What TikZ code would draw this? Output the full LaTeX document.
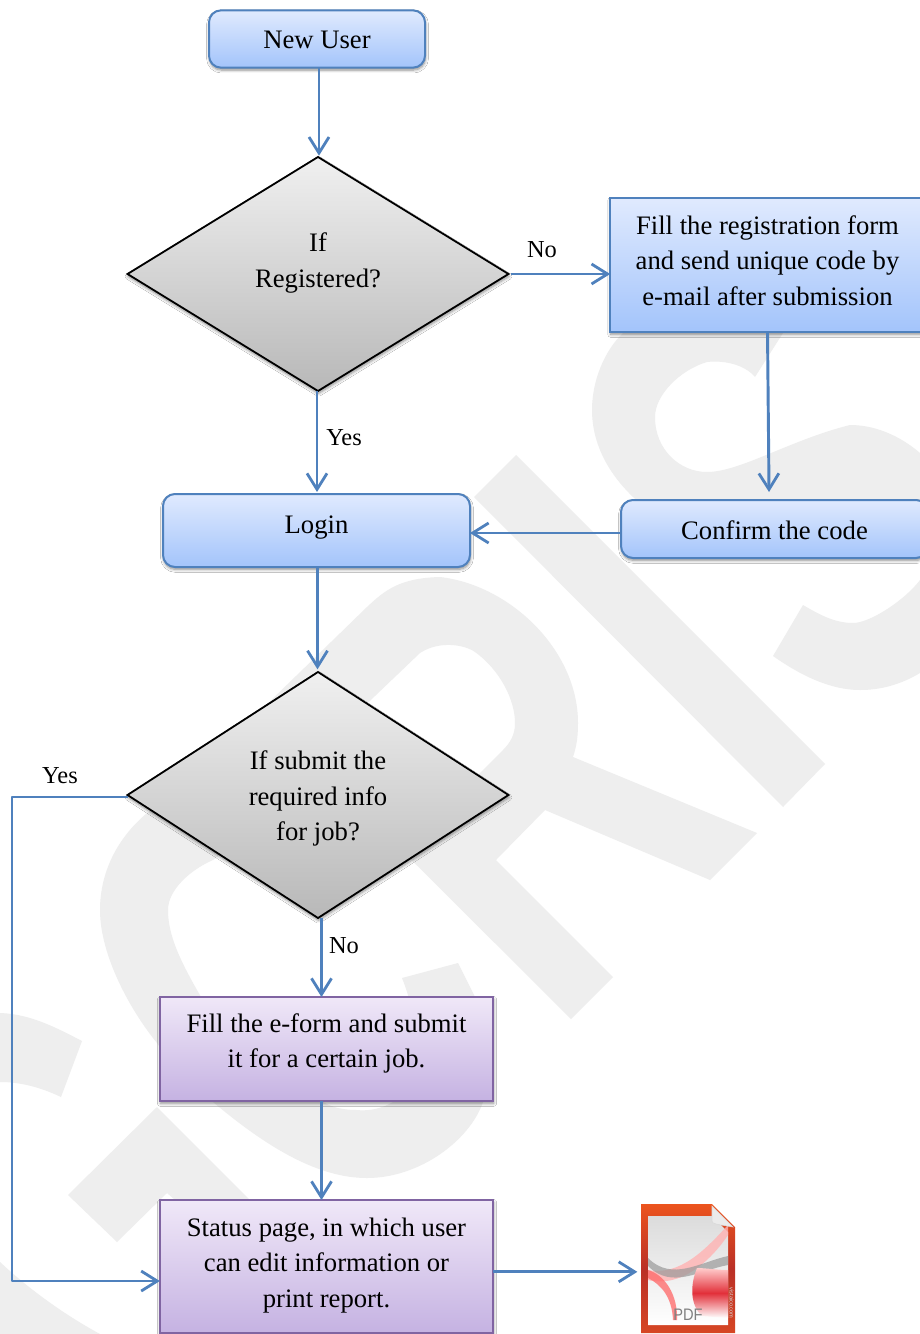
\documentclass[tikz,border=0pt]{standalone}
\usepackage{fontspec}
\setmainfont{Liberation Serif}
\newfontfamily\iconfont{Liberation Sans}
\usetikzlibrary{arrows.meta,shapes.geometric,shadows,shadows.blur}
\definecolor{flowblue}{HTML}{4F81BD}
\definecolor{purpleline}{HTML}{8064A2}
\definecolor{mark}{HTML}{EEEEEE}
\newcommand{\boxtext}[2]{\raisebox{#1}[0pt][0pt]{\begin{tabular}{@{}c@{}}#2\end{tabular}}}
\tikzset{
  softshadow/.style={blur shadow={shadow xshift=0.4pt,shadow yshift=-1.8pt,shadow blur radius=2.2pt,shadow blur steps=6,shadow opacity=45}},
  basebox/.style={inner sep=0pt,outer sep=0pt,font=\fontsize{20pt}{26.6pt}\selectfont,softshadow},
  bluefill/.style={top color={rgb,255:red,224;green,234;blue,254},bottom color={rgb,255:red,163;green,196;blue,251},draw=flowblue,line width=1.5pt},
  bluebox/.style={basebox,rectangle,bluefill},
  blueround/.style={basebox,rectangle,rounded corners=9pt,bluefill},
  purplebox/.style={basebox,rectangle,top color={rgb,255:red,240;green,232;blue,248},bottom color={rgb,255:red,197;green,178;blue,226},draw=purpleline,line width=1.5pt},
  decision/.style={basebox,diamond,top color={rgb,255:red,240;green,240;blue,240},bottom color={rgb,255:red,184;green,184;blue,184},draw=black,line width=1.35pt,aspect=1.63},
  flow/.style={draw=flowblue,line width=2.2pt,-{Straight Barb[length=12pt,width=15pt,line width=2.1pt]}},
  thinflow/.style={draw=flowblue,line width=1.6pt,line join=round,-{Straight Barb[length=12pt,width=15pt,line width=2.1pt]}},
  tag/.style={font=\fontsize{18.3pt}{21pt}\selectfont,inner sep=0pt},
  wm/.style={fill=mark,draw=none}
}
\begin{document}
\begin{tikzpicture}[x=0.75pt,y=-0.75pt]
\useasboundingbox (0,0) rectangle (920,1334);
\fill[white] (0,0) rectangle (920,1334);
% watermark letters
\fill[wm] (516,455) -- (474,497) -- (783,807) -- (825,764) -- cycle;
\fill[wm,even odd rule] (261,710) -- (367,607) .. controls (385,590) and (400,578) .. (440,577) .. controls (510,585) and (578,650) .. (578,723) .. controls (578,735) and (577,745) .. (573,757) -- (757,833) -- (710,880) -- (545,810) -- (496,860) -- (613,977) -- (571,1019) -- cycle
  (353,717) -- (420,653) .. controls (440,640) and (465,645) .. (475,652) .. controls (500,670) and (515,700) .. (515,723) .. controls (515,735) and (510,743) .. (503,750) -- (444,809) -- cycle;
\fill[wm] (300,800) -- (220,770) -- (147,813) .. controls (115,840) and (100,875) .. (100,910) .. controls (100,955) and (130,1010) .. (157,1043) .. controls (175,1070) and (195,1088) .. (213,1102) .. controls (270,1150) and (320,1178) .. (367,1178) .. controls (420,1178) and (470,1140) .. (483,1102) .. controls (492,1070) and (490,1030) .. (475,997) -- (458,963) -- (402,978) .. controls (415,1010) and (425,1060) .. (393,1102) .. controls (380,1110) and (365,1111) .. (357,1110) .. controls (345,1110) and (333,1108) .. (323,1102) .. controls (270,1075) and (225,1040) .. (197,990) .. controls (180,960) and (168,935) .. (168,910) .. controls (168,890) and (190,870) .. (213,860) -- cycle;
\fill[wm] (157,1107) -- (68,1195) -- (117,1242) -- (167,1193) -- (175,1200) -- (250,1200) -- cycle;
\fill[wm] (0,1013) .. controls (30,1014) and (55,1027) .. (82,1041) -- (61,1097) .. controls (40,1087) and (20,1082) .. (0,1082) -- cycle;
\fill[wm] (0,1262) .. controls (30,1290) and (65,1315) .. (100,1334) -- (0,1334) -- cycle;
\fill[wm] (755,377) .. controls (745,365) and (725,360) .. (707,362) .. controls (680,370) and (655,395) .. (655,417) .. controls (655,450) and (680,472) .. (707,472) .. controls (740,472) and (790,440) .. (850,425) .. controls (880,425) and (905,440) .. (920,453) -- (920,535) .. controls (900,510) and (885,497) .. (865,499) .. controls (820,505) and (790,525) .. (770,530) .. controls (720,540) and (670,530) .. (633,497) .. controls (605,470) and (592,440) .. (592,410) .. controls (592,380) and (605,350) .. (623,333) -- (650,270) -- (783,270) -- (783,333) -- cycle;
\fill[wm] (803,605) .. controls (820,615) and (835,623) .. (853,623) .. controls (870,623) and (905,600) .. (920,580) -- (920,673) .. controls (900,685) and (880,690) .. (860,690) .. controls (830,690) and (800,675) .. (773,656) -- cycle;
% boxes
\node[blueround,minimum width=162pt,minimum height=43pt] (user) at (317,39) {\boxtext{-7.2pt}{New User}};
\node[decision,minimum width=285.75pt,minimum height=175.5pt] (d1) at (318,274) {\boxtext{3.4pt}{If\\Registered?}};
\node[bluebox,minimum width=236pt,minimum height=100.5pt] (reg) at (767.5,265) {\boxtext{-3.5pt}{Fill the registration form\\and send unique code by\\e-mail after submission}};
\node[blueround,minimum width=230.25pt,minimum height=54.75pt] (login) at (316.5,530.5) {\boxtext{-1.75pt}{Login}};
\node[blueround,minimum width=230.25pt,minimum height=43.5pt] (confirm) at (774.5,529) {\boxtext{-8pt}{Confirm the code}};
\node[decision,minimum width=285.75pt,minimum height=184.5pt] (d2) at (318,795) {\boxtext{-7.5pt}{If submit the\\required info\\for job?}};
\node[purplebox,minimum width=250pt,minimum height=78pt] (fillb) at (326.5,1049) {\boxtext{-.8pt}{Fill the e-form and submit\\it for a certain job.}};
\node[purplebox,minimum width=250pt,minimum height=99.75pt] (status) at (326.5,1266.5) {\boxtext{-3.75pt}{Status page, in which user\\can edit information or\\print report.}};
% pdf icon
\node[inner sep=0pt,outer sep=0pt,minimum width=71pt,minimum height=96.5pt] (pdf) at (688,1269) {};
\shade[top color={rgb,255:red,236;green,84;blue,30},bottom color={rgb,255:red,214;green,70;blue,36},middle color={rgb,255:red,186;green,48;blue,38}] (641,1204) -- (712,1204) -- (735,1227) -- (735,1333) -- (641,1333) -- cycle;
\shade[top color=white!86!black,bottom color=white] (648,1216) -- (712,1216) -- (728,1232) -- (728,1325) -- (648,1325) -- cycle;
\fill[red!30!white,opacity=.8] (648,1270) .. controls (680,1276) and (705,1250) .. (728,1225) -- (728,1235) .. controls (710,1262) and (680,1288) .. (648,1280) -- cycle;
\fill[black!40,opacity=.7] (648,1258) .. controls (672,1282) and (700,1262) .. (728,1256) -- (728,1265) .. controls (700,1270) and (672,1290) .. (648,1266) -- cycle;
\shade[top color=red!20!white,bottom color=white,middle color={rgb,255:red,226;green,48;blue,58}] (697,1268) .. controls (705,1268) and (718,1270) .. (728,1270) -- (728,1318) -- (702,1316) .. controls (690,1305) and (690,1285) .. (697,1268) -- cycle;
\fill[red!60!white,opacity=.75] (648,1270) .. controls (665,1275) and (678,1295) .. (677,1320) -- (673,1320) .. controls (672,1298) and (662,1285) .. (648,1278) -- cycle;
\fill[white!92!black,draw=black!15] (712,1206) -- (712,1221) .. controls (712,1224) and (716,1224) .. (733,1227) -- cycle;
\node[inner sep=0pt,text=black!50,font=\iconfont\fontsize{12.5pt}{14pt}\selectfont] (pdftext) at (688,1315) {\scalebox{.88}[1]{PDF}};
\node[inner sep=0pt,text=white!85!black,rotate=-90,font=\iconfont\fontsize{4.2pt}{5pt}\selectfont] (pdfsite) at (731.5,1303) {vistaico.com};
% connectors
\coordinate (lp) at (12,796.6);
\draw[flow] ([xshift=1.5pt]user.south) -- ([shift={(.75pt,1pt)}]d1.north);
\draw[flow] ([xshift=2pt]d1.east) -- (d1.east -| reg.west);
\draw[flow] (reg.south) -- ([shift={(-4.1pt,6pt)}]confirm.north);
\draw[flow] ([yshift=-3pt]confirm.west) -- ([yshift=-3pt]confirm.west -| login.east);
\draw[flow] ([xshift=-.75pt]d1.south) -- ([shift={(.375pt,1.5pt)}]login.north);
\draw[flow] ([xshift=.75pt]login.south) -- ([shift={(-.375pt,2pt)}]d2.north);
\draw[flow] ([xshift=-3.75pt]fillb.north |- d2.south) -- ([xshift=-3.75pt]fillb.north);
\draw[flow] ([xshift=-3.75pt]fillb.south) -- ([xshift=-3.75pt]status.north);
\draw[thinflow] (d2.west |- lp) -- (lp) |- ([yshift=-10.9pt]status.west);
\draw[flow] ([yshift=-4pt]status.east) -- ([yshift=-4pt,xshift=-2.5pt]status.east -| pdf.west);
% labels
\node[tag] (lno1) at (542,250) {No};
\node[tag] (lyes1) at (344,438) {Yes};
\node[tag] (lyes2) at (60,776) {Yes};
\node[tag] (lno2) at (344,946) {No};
\end{tikzpicture}
\end{document}
